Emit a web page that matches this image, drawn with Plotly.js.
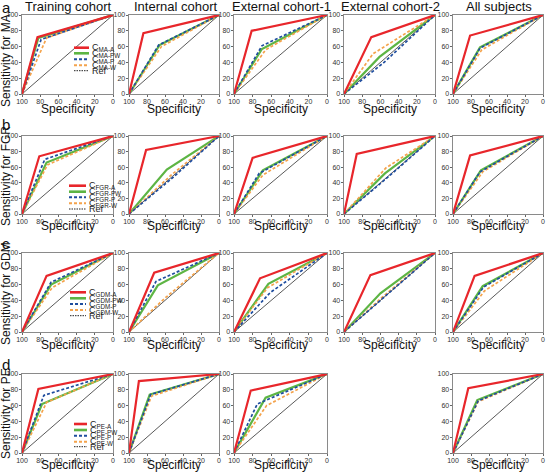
<!DOCTYPE html>
<html>
<head>
<meta charset="utf-8">
<script src="https://cdn.plot.ly/plotly-3.0.1.min.js"></script>
<style>html,body{margin:0;padding:0;background:#fff;}#chart{width:546px;height:473px;}</style>
</head>
<body>
<div id="chart"></div>
<script>
// ---------------- DATA ----------------
const columnTitles = ['Training cohort', 'Internal cohort', 'External cohort-1', 'External cohort-2', 'All subjects'];
const rowLetters = ['a', 'b', 'c', 'd'];
const diseases = ['MA', 'FGR', 'GDM', 'PE'];
const modelSuffixes = ['A', 'PW', 'P', 'W'];
const tickValues = [0, 20, 40, 60, 80, 100];
const rocStart = {spec: 100, sens: 0};
const rocEnd = {spec: 0, sens: 100};

// operating point (specificity, sensitivity) per row (MA, FGR, GDM, PE) and column
const specA  = [[83, 84, 81, 70, 81], [81, 81, 80, 86, 81], [73, 72, 72, 71, 76], [82, 89, 82, null, 83]];
const sensA  = [[72, 77, 80, 72, 74], [74, 82, 72, 77, 75], [71, 75, 68, 72, 71], [81, 91, 79, null, 82]];
const specPW = [[82, 66, 70, 61, 70], [73, 58, 69, 55, 69], [68, 68, 63, 60, 67], [78, 77, 66, null, 73]];
const sensPW = [[71, 62, 57, 47, 59], [66, 57, 56, 52, 56], [60, 59, 61, 49, 58], [62, 74, 70, null, 67]];
const specP  = [[79, 67, 70, 56, 70], [75, 51, 73, 55, 70], [68, 70, 61, 60, 66], [76, 76, 75, null, 72]];
const sensP  = [[69, 62, 61, 40, 58], [70, 47, 52, 44, 54], [63, 64, 50, 40, 57], [73, 74, 62, null, 66]];
const specW  = [[73, 64, 66, 68, 68], [72, 53, 69, 54, 67], [67, 60, 64, 58, 65], [73, 75, 65, null, 72]];
const sensW  = [[71, 60, 56, 51, 56], [63, 50, 50, 59, 54], [56, 43, 56, 44, 52], [64, 72, 60, null, 65]];

// ---------------- STYLE / LAYOUT ----------------
const W = 546, H = 473;
const FONT = 'Liberation Sans, Arial, Helvetica, sans-serif';
const colPx = [[22, 113], [129, 219], [234, 327], [344, 435], [453, 543]];
const rowPx = [[15, 94], [136, 214], [253, 332], [374, 453]];
const specTitleY = [109, 226, 345, 465];
const yTitleCenter = [61, 176, 294, 414];
const letterY = [8, 124, 243, 364];

const series = [
  {spec: specPW, sens: sensPW, color: '#5db544', width: 2.2, dash: 'solid'},
  {spec: specW,  sens: sensW,  color: '#f4a34c', width: 1.7, dash: '3px,2px'},
  {spec: specP,  sens: sensP,  color: '#1f4d9e', width: 1.7, dash: '3px,2px'},
  {spec: specA,  sens: sensA,  color: '#e8262b', width: 2.2, dash: 'solid'}
];
const legendOrder = [
  {color: '#e8262b', width: 2.6, dash: 'solid'},
  {color: '#5db544', width: 2.6, dash: 'solid'},
  {color: '#1f4d9e', width: 2.0, dash: '3px,2px'},
  {color: '#f4a34c', width: 2.0, dash: '3px,2px'},
  {color: '#222222', width: 1.0, dash: '1.5px,1px'}
];
const legendPx = [
  {x0: 74, x1: 89, ys: [47.7, 53.3, 59.3, 65.3, 70.7]},
  {x0: 69, x1: 86, ys: [185.7, 191.7, 197.3, 203.3, 209]},
  {x0: 70, x1: 86, ys: [292.3, 298.3, 304, 310, 315.7]},
  {x0: 74, x1: 87, ys: [424, 430, 435.7, 441.7, 446.7]}
];

const data = [];
const layout = {
  width: W, height: H,
  margin: {l: 0, r: 0, t: 0, b: 0},
  paper_bgcolor: '#ffffff', plot_bgcolor: '#ffffff',
  showlegend: false,
  font: {family: FONT, color: '#222'},
  annotations: [], shapes: []
};

function px2x(p) { return p / W; }
function px2y(p) { return 1 - p / H; }

let k = 0;
for (let r = 0; r < 4; r++) {
  for (let c = 0; c < 5; c++) {
    if (specA[r][c] === null) continue;
    k++;
    const xa = 'x' + (k === 1 ? '' : k), ya = 'y' + (k === 1 ? '' : k);
    const xName = 'xaxis' + (k === 1 ? '' : k), yName = 'yaxis' + (k === 1 ? '' : k);
    const axCommon = {
      showgrid: false, zeroline: false, showline: true, mirror: true,
      linecolor: '#8a8a8a', linewidth: 1.4,
      ticks: 'outside', ticklen: 2, tickwidth: 1, tickcolor: '#666',
      tickvals: tickValues, tickfont: {size: 7, color: '#333', family: FONT},
      fixedrange: true
    };
    layout[xName] = Object.assign({}, axCommon, {
      domain: [px2x(colPx[c][0]), px2x(colPx[c][1])],
      range: [100, 0], anchor: ya, ticklabelstandoff: -2
    });
    layout[yName] = Object.assign({}, axCommon, {
      domain: [px2y(rowPx[r][1]), px2y(rowPx[r][0])],
      range: [0, 100], anchor: xa, ticklabelstandoff: -1
    });
    // reference diagonal
    data.push({x: [rocStart.spec, rocEnd.spec], y: [rocStart.sens, rocEnd.sens], xaxis: xa, yaxis: ya,
      mode: 'lines', line: {color: '#111', width: 0.7}, hoverinfo: 'skip'});
    series.forEach(s => {
      data.push({
        x: [rocStart.spec, s.spec[r][c], rocEnd.spec],
        y: [rocStart.sens, s.sens[r][c], rocEnd.sens],
        xaxis: xa, yaxis: ya, mode: 'lines',
        line: {color: s.color, width: s.width, dash: s.dash}
      });
    });
    // Specificity title
    layout.annotations.push({
      text: 'Specificity', xref: 'paper', yref: 'paper',
      x: px2x((colPx[c][0] + colPx[c][1]) / 2), y: px2y(specTitleY[r]),
      xanchor: 'center', yanchor: 'middle', showarrow: false,
      font: {size: 12, color: '#111', family: FONT}
    });
    if (r === 0) {
      layout.annotations.push({
        text: columnTitles[c], xref: 'paper', yref: 'paper',
        x: px2x((colPx[c][0] + colPx[c][1]) / 2 + 1), y: px2y(7),
        xanchor: 'center', yanchor: 'middle', showarrow: false,
        font: {size: 13, color: '#111', family: FONT}
      });
    }
  }
  // row letter
  layout.annotations.push({
    text: rowLetters[r], xref: 'paper', yref: 'paper',
    x: px2x(0), y: px2y(letterY[r]), xanchor: 'left', yanchor: 'middle', showarrow: false,
    font: {size: 15, color: '#111', family: FONT}
  });
  // y axis title
  layout.annotations.push({
    text: 'Sensitivity for ' + diseases[r], xref: 'paper', yref: 'paper',
    x: px2x(6), y: px2y(yTitleCenter[r]), xanchor: 'center', yanchor: 'middle',
    textangle: -90, showarrow: false,
    font: {size: 12, color: '#111', family: FONT}
  });
  // legend (drawn manually, compact)
  const labels = modelSuffixes.map(sfx => 'C<sub>' + diseases[r] + '-' + sfx + '</sub>').concat(['Ref']);
  labels.forEach((lab, i) => {
    const st = legendOrder[i];
    const yy = px2y(legendPx[r].ys[i]);
    layout.shapes.push({
      type: 'line', xref: 'paper', yref: 'paper',
      x0: px2x(legendPx[r].x0), x1: px2x(legendPx[r].x1), y0: yy, y1: yy,
      line: {color: st.color, width: st.width, dash: st.dash}
    });
    layout.annotations.push({
      text: lab, xref: 'paper', yref: 'paper',
      x: px2x(legendPx[r].x1 + 1), y: yy, xanchor: 'left', yanchor: 'middle',
      showarrow: false, font: {size: 9, color: '#222', family: FONT}
    });
  });
}

Plotly.newPlot('chart', data, layout, {staticPlot: true, displayModeBar: false});
</script>
</body>
</html>
